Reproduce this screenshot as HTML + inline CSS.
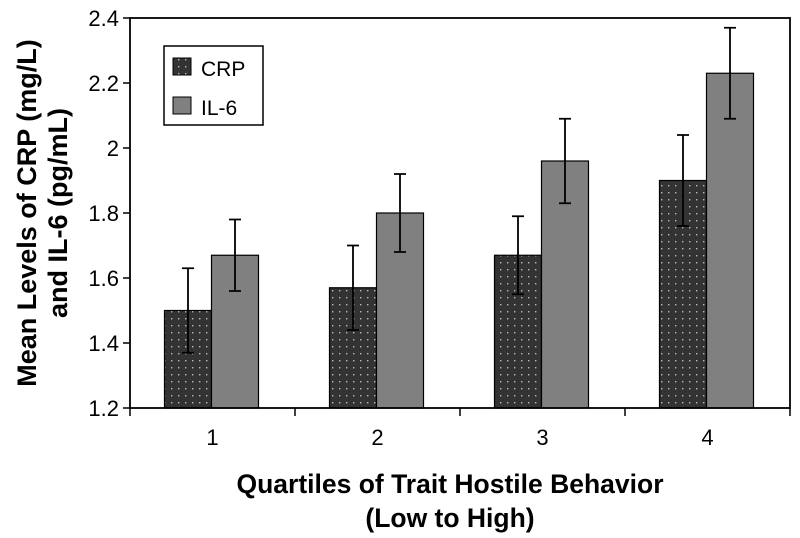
<!DOCTYPE html>
<html><head><meta charset="utf-8"><style>
body{margin:0;background:#fff;}
svg{display:block;font-family:"Liberation Sans",Arial,sans-serif;}
</style></head><body>
<svg id="chart" width="800" height="538">
<defs>
<pattern id="dots" width="7" height="7" patternUnits="userSpaceOnUse">
<rect width="7" height="7" fill="#333"/><rect x="3" y="3" width="1.4" height="1.4" fill="#bbb"/>
</pattern>
</defs>
<g id="plot"></g>
<g>
<rect x="164" y="46" width="99" height="79" fill="#fff" stroke="#000" stroke-width="1.5"/>
<rect x="173" y="58" width="18" height="17" fill="url(#dots)" stroke="#000"/>
<text x="201" y="76" font-size="21">CRP</text>
<rect x="173" y="97" width="18" height="17" fill="#808080" stroke="#000"/>
<text x="201" y="115" font-size="21">IL-6</text>
</g>
<text transform="translate(36,213) rotate(-90)" text-anchor="middle" font-size="27" font-weight="bold"><tspan x="0" y="0">Mean Levels of CRP (mg/L)</tspan><tspan x="0" y="31">and IL-6 (pg/mL)</tspan></text>
<text x="450" y="493" text-anchor="middle" font-size="26.5" font-weight="bold">Quartiles of Trait Hostile Behavior</text>
<text x="450" y="527" text-anchor="middle" font-size="26.5" font-weight="bold">(Low to High)</text>
</svg>
<script>
const categories=["1","2","3","4"];
const crp=[1.50,1.57,1.67,1.90];
const crpLo=[1.37,1.44,1.55,1.76];
const crpHi=[1.63,1.70,1.79,2.04];
const il6=[1.67,1.80,1.96,2.23];
const il6Lo=[1.56,1.68,1.83,2.09];
const il6Hi=[1.78,1.92,2.09,2.37];
const yTicks=[1.2,1.4,1.6,1.8,2,2.2,2.4];
const yTickLabels=["1.2","1.4","1.6","1.8","2","2.2","2.4"];

const L=130,R=790,T=18,B=408,yMin=1.2,yMax=2.4;
const y=v=>B-(v-yMin)/(yMax-yMin)*(B-T);
const cw=(R-L)/categories.length;
const xc=i=>L+cw*(i+0.5);
const g=document.getElementById('plot');
const NS='http://www.w3.org/2000/svg';
function mk(tag,a){const e=document.createElementNS(NS,tag);for(const k in a)e.setAttribute(k,a[k]);g.appendChild(e);return e;}
const bw=47;
categories.forEach((c,i)=>{
  const cx=xc(i);
  let r=mk('rect',{x:cx-bw-1,y:y(crp[i]),width:bw,height:B-y(crp[i]),fill:'url(#dots)',stroke:'#000','stroke-width':1.2});
  
  
  r=mk('rect',{x:cx-1,y:y(il6[i]),width:bw,height:B-y(il6[i]),fill:'#808080',stroke:'#000','stroke-width':1.2});
  
  
  [[cx-bw/2-1,crpLo[i],crpHi[i],'crp'],[cx+bw/2-1,il6Lo[i],il6Hi[i],'il6']].forEach(([ex,lo,hi,n])=>{
    const p=mk('path',{d:`M${ex},${y(lo)}V${y(hi)}M${ex-6},${y(lo)}h12M${ex-6},${y(hi)}h12`,stroke:'#000','stroke-width':1.8,fill:'none'});
    
    
  });
  const t=mk('text',{x:cx,y:B+37,'text-anchor':'middle','font-size':22});
  t.textContent=c;
  
  
});
for(let i=0;i<=categories.length;i++){
  const tk=mk('line',{x1:L+cw*i,x2:L+cw*i,y1:B,y2:B+8,stroke:'#000','stroke-width':1.5});
  
  
}
yTicks.forEach((v,i)=>{
  const tk=mk('line',{x1:L-7,x2:L,y1:y(v),y2:y(v),stroke:'#000','stroke-width':1.5});
  
  
  const t=mk('text',{x:L-11,y:y(v)+8,'text-anchor':'end','font-size':22});
  t.textContent=yTickLabels[i];
  
  
});
const f=mk('rect',{x:L,y:T,width:R-L,height:B-T,fill:'none',stroke:'#000','stroke-width':1.8});


</script>
</body></html>
